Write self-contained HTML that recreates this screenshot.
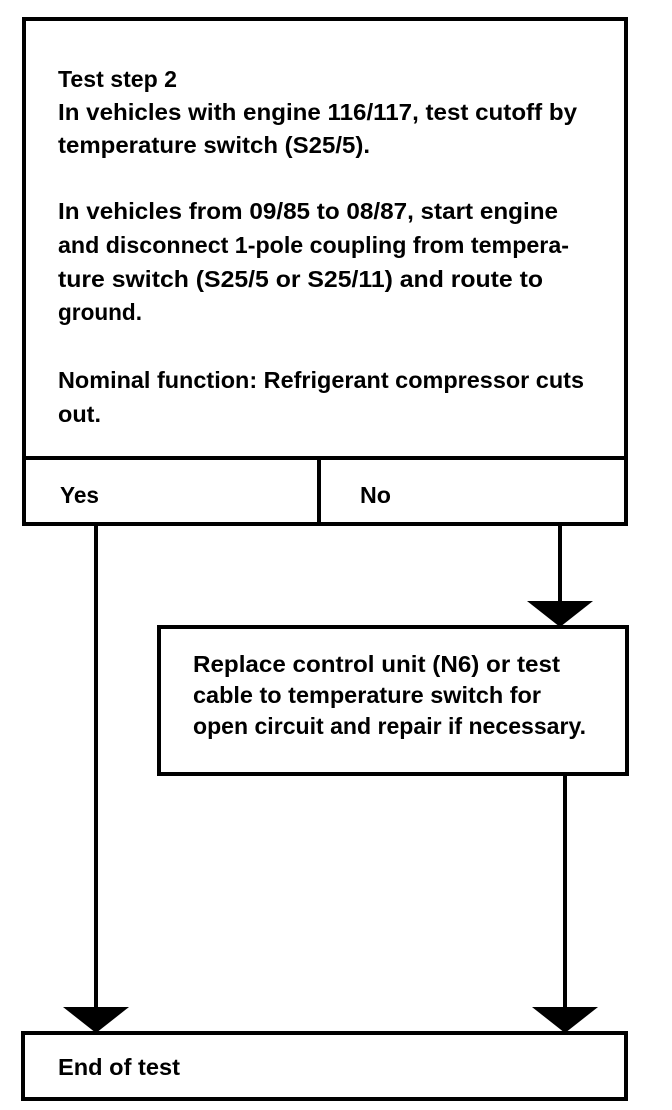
<!DOCTYPE html>
<html><head><meta charset="utf-8"><style>
html,body{margin:0;padding:0;background:#fff;}
svg{display:block;}
text{font-family:"Liberation Sans",sans-serif;font-weight:bold;font-size:23px;fill:#000;}
</style></head><body>
<svg width="672" height="1110" viewBox="0 0 672 1110" xmlns="http://www.w3.org/2000/svg">
<g fill="none" stroke="#000" stroke-width="4">
<rect x="24" y="19" width="602" height="505"/>
<line x1="24" y1="458" x2="626" y2="458"/>
<line x1="319" y1="458" x2="319" y2="524"/>
<rect x="159" y="627" width="468" height="147"/>
<rect x="23" y="1033" width="603" height="66"/>
<line x1="96" y1="524" x2="96" y2="1010"/>
<line x1="560" y1="524" x2="560" y2="604"/>
<line x1="565" y1="774" x2="565" y2="1010"/>
</g>
<g fill="#000">
<polygon points="527,601 593,601 560,627"/>
<polygon points="63,1007 129,1007 96,1033"/>
<polygon points="532,1007 598,1007 565,1033"/>
</g>
<text x="58" y="87" textLength="119" lengthAdjust="spacingAndGlyphs">Test step 2</text>
<text x="58" y="120" textLength="519" lengthAdjust="spacingAndGlyphs">In vehicles with engine 116/117, test cutoff by</text>
<text x="58" y="153" textLength="312" lengthAdjust="spacingAndGlyphs">temperature switch (S25/5).</text>
<text x="58" y="219" textLength="500" lengthAdjust="spacingAndGlyphs">In vehicles from 09/85 to 08/87, start engine</text>
<text x="58" y="253" textLength="511" lengthAdjust="spacingAndGlyphs">and disconnect 1-pole coupling from tempera-</text>
<text x="58" y="287" textLength="485" lengthAdjust="spacingAndGlyphs">ture switch (S25/5 or S25/11) and route to</text>
<text x="58" y="320" textLength="84" lengthAdjust="spacingAndGlyphs">ground.</text>
<text x="58" y="388" textLength="526" lengthAdjust="spacingAndGlyphs">Nominal function: Refrigerant compressor cuts</text>
<text x="58" y="422" textLength="43" lengthAdjust="spacingAndGlyphs">out.</text>
<text x="60" y="503" textLength="39" lengthAdjust="spacingAndGlyphs">Yes</text>
<text x="360" y="503" textLength="31" lengthAdjust="spacingAndGlyphs">No</text>
<text x="193" y="672" textLength="367" lengthAdjust="spacingAndGlyphs">Replace control unit (N6) or test</text>
<text x="193" y="703" textLength="348" lengthAdjust="spacingAndGlyphs">cable to temperature switch for</text>
<text x="193" y="734" textLength="393" lengthAdjust="spacingAndGlyphs">open circuit and repair if necessary.</text>
<text x="58" y="1075" textLength="122" lengthAdjust="spacingAndGlyphs">End of test</text>
</svg>
</body></html>
